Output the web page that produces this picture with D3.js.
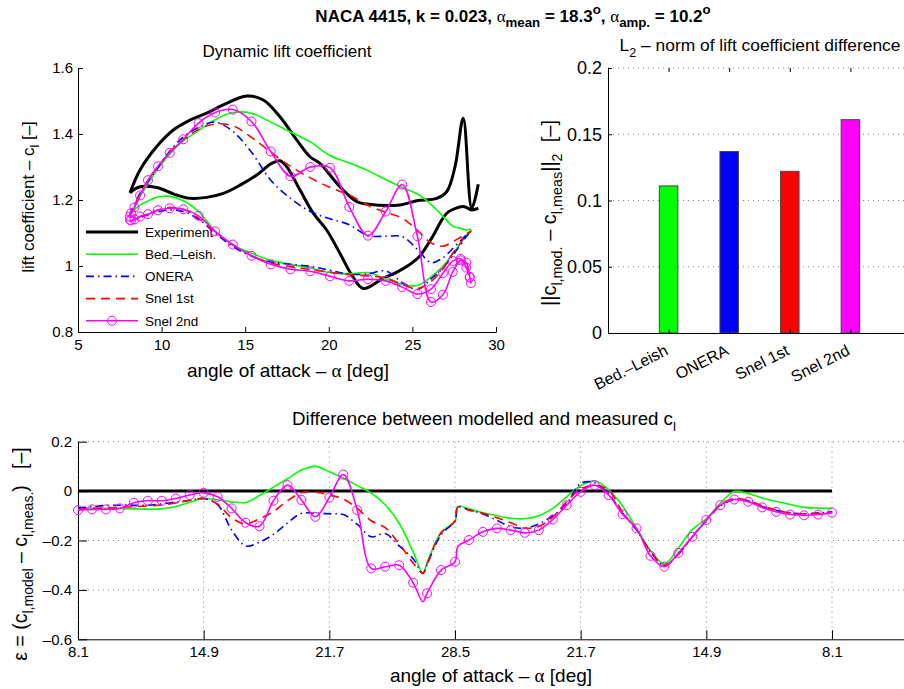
<!DOCTYPE html>
<html>
<head>
<meta charset="utf-8">
<script src="https://cdn.jsdelivr.net/npm/d3@7"></script>
<style>
body { margin: 0; background: #fff; }
svg text { font-family: "Liberation Sans", Arial, Helvetica, sans-serif; fill: #000; white-space: pre; }
</style>
</head>
<body>
<svg id="fig" width="904" height="689"></svg>
<script>
// ---- data ----
// angle of attack at each model sample (up-stroke then down-stroke)
var alphaGrid = [8.100, 8.169, 8.375, 8.715, 9.185, 9.778, 10.486, 11.300, 12.209, 13.200, 14.260, 15.375, 16.529, 17.707,
  18.893, 20.071, 21.225, 22.340, 23.400, 24.391, 25.300, 26.114, 26.822, 27.415, 27.885, 28.225, 28.431, 28.500,
  28.431, 28.225, 27.885, 27.415, 26.822, 26.114, 25.300, 24.391, 23.400, 22.340, 21.225, 20.071, 18.893, 17.707,
  16.529, 15.375, 14.260, 13.200, 12.209, 11.300, 10.486, 9.778, 9.185, 8.715, 8.375, 8.169, 8.100];

var clBedLeish = [1.152, 1.158, 1.177, 1.211, 1.250, 1.295, 1.339, 1.379, 1.410, 1.443, 1.465, 1.463, 1.436, 1.406,
  1.376, 1.335, 1.312, 1.289, 1.262, 1.238, 1.218, 1.187, 1.151, 1.121, 1.114, 1.109, 1.111, 1.108,
  1.103, 1.094, 1.070, 1.037, 0.999, 0.967, 0.941, 0.944, 0.961, 0.980, 0.976, 0.980, 0.994, 1.005,
  1.017, 1.039, 1.064, 1.106, 1.165, 1.198, 1.211, 1.209, 1.197, 1.185, 1.170, 1.158, 1.152];
var clOnera = [1.153, 1.164, 1.186, 1.221, 1.256, 1.298, 1.348, 1.391, 1.420, 1.436, 1.408, 1.345, 1.260, 1.205,
  1.165, 1.143, 1.125, 1.092, 1.090, 1.089, 1.050, 1.010, 1.025, 1.053, 1.077, 1.094, 1.103, 1.105,
  1.102, 1.089, 1.065, 1.032, 0.993, 0.961, 0.929, 0.950, 0.985, 0.976, 0.975, 0.987, 0.999, 1.005,
  1.012, 1.030, 1.059, 1.100, 1.142, 1.165, 1.170, 1.164, 1.155, 1.147, 1.139, 1.137, 1.137];
var clSnel1 = [1.151, 1.166, 1.185, 1.216, 1.260, 1.301, 1.345, 1.383, 1.414, 1.430, 1.425, 1.390, 1.345, 1.302,
  1.267, 1.238, 1.215, 1.184, 1.163, 1.145, 1.108, 1.070, 1.060, 1.074, 1.087, 1.096, 1.102, 1.105,
  1.103, 1.097, 1.070, 1.039, 0.992, 0.953, 0.932, 0.944, 0.964, 0.970, 0.974, 0.981, 0.989, 0.998,
  1.009, 1.032, 1.064, 1.103, 1.145, 1.172, 1.177, 1.170, 1.158, 1.150, 1.140, 1.137, 1.136];
var clSnel2 = [1.150, 1.160, 1.178, 1.214, 1.260, 1.302, 1.343, 1.384, 1.433, 1.465, 1.474, 1.438, 1.347, 1.272,
  1.300, 1.298, 1.179, 1.092, 1.165, 1.247, 1.090, 0.891, 0.913, 0.982, 1.017, 1.010, 0.967, 0.948,
  0.965, 0.995, 1.022, 1.015, 0.978, 0.930, 0.915, 0.936, 0.955, 0.960, 0.955, 0.969, 0.984, 0.990,
  1.005, 1.031, 1.065, 1.105, 1.152, 1.172, 1.175, 1.169, 1.157, 1.150, 1.141, 1.138, 1.140];

// measured lift, up-stroke and down-stroke
var expUpAlpha = [8.11, 8.71, 9.71, 10.70, 11.70, 12.70, 13.69, 15.09, 16.08, 17.08, 18.08, 18.88, 19.47, 20.67,
  21.67, 22.27, 24.26, 25.26, 26.45, 27.05, 27.55, 28.04, 28.55, 28.94];
var expUpCl = [1.222, 1.291, 1.362, 1.412, 1.442, 1.463, 1.488, 1.515, 1.503, 1.452, 1.382, 1.331, 1.311, 1.240,
  1.195, 1.188, 1.185, 1.198, 1.205, 1.225, 1.301, 1.448, 1.175, 1.248];
var expDownAlpha = [28.94, 28.55, 28.04, 27.15, 26.83, 26.23, 25.75, 25.45, 24.80, 24.02, 23.26, 22.06, 21.37, 20.67,
  19.87, 19.07, 18.28, 17.48, 17.08, 16.58, 15.69, 14.69, 13.69, 12.70, 11.70, 10.90, 9.71, 8.71, 8.11];
var expDownCl = [1.175, 1.170, 1.180, 1.164, 1.145, 1.091, 1.052, 1.030, 1.003, 0.980, 0.963, 0.932, 0.973, 1.038,
  1.109, 1.160, 1.230, 1.301, 1.319, 1.311, 1.276, 1.245, 1.220, 1.208, 1.205, 1.215, 1.238, 1.240, 1.222];

// difference plot: sample position along the cycle
var epsPos = [0, 1, 2, 3, 4, 5, 6, 7, 8, 9, 10, 11, 12, 13, 14, 15, 16, 17, 18, 19, 20, 21, 22, 23, 24, 24.7, 25, 26,
  27, 27.2, 28, 29, 30, 31, 32, 33, 34, 35, 36, 37, 38, 39, 40, 41, 42, 43, 44, 45, 46, 47, 48, 49, 50, 51, 52, 53, 54];
var epsBedLeish = [-0.070, -0.070, -0.070, -0.071, -0.072, -0.073, -0.072, -0.062, -0.045, -0.030,
  -0.035, -0.044, -0.046, -0.018, 0.016, 0.050, 0.085, 0.100, 0.078, 0.052,
  0.022, -0.008, -0.055, -0.130, -0.245, -0.333, -0.290, -0.168, -0.122, -0.062,
  -0.072, -0.088, -0.100, -0.110, -0.112, -0.100, -0.070, -0.023, 0.022, 0.042,
  0.005, -0.060, -0.150, -0.240, -0.295, -0.230, -0.155, -0.112, -0.050, -0.002,
  -0.010, -0.028, -0.042, -0.054, -0.066, -0.069, -0.070];
var epsOnera = [-0.068, -0.063, -0.058, -0.057, -0.057, -0.057, -0.052, -0.045, -0.037, -0.030,
  -0.055, -0.157, -0.222, -0.207, -0.175, -0.129, -0.090, -0.090, -0.092, -0.095,
  -0.135, -0.185, -0.172, -0.222, -0.274, -0.333, -0.297, -0.177, -0.121, -0.065,
  -0.076, -0.093, -0.118, -0.145, -0.150, -0.133, -0.100, -0.050, 0.031, 0.034,
  -0.012, -0.090, -0.157, -0.245, -0.300, -0.255, -0.185, -0.120, -0.060, -0.035,
  -0.040, -0.062, -0.078, -0.088, -0.092, -0.088, -0.084];
var epsSnel1 = [-0.073, -0.070, -0.068, -0.066, -0.063, -0.060, -0.056, -0.048, -0.038, -0.030,
  -0.053, -0.108, -0.133, -0.112, -0.083, -0.039, -0.007, -0.004, -0.016, -0.032,
  -0.070, -0.120, -0.148, -0.213, -0.291, -0.333, -0.295, -0.169, -0.121, -0.065,
  -0.077, -0.090, -0.108, -0.128, -0.150, -0.143, -0.105, -0.043, 0.008, 0.023,
  0.004, -0.085, -0.155, -0.245, -0.300, -0.255, -0.183, -0.118, -0.055, -0.030,
  -0.038, -0.060, -0.077, -0.088, -0.092, -0.090, -0.086];
var epsSnel2 = [-0.077, -0.074, -0.074, -0.070, -0.047, -0.039, -0.039, -0.030, -0.016, -0.007,
  -0.023, -0.070, -0.128, -0.142, -0.039, 0.024, -0.036, -0.104, -0.026, 0.067,
  -0.077, -0.313, -0.306, -0.300, -0.371, -0.448, -0.414, -0.320, -0.286, -0.225,
  -0.198, -0.165, -0.151, -0.158, -0.169, -0.158, -0.115, -0.057, -0.003, 0.024,
  -0.016, -0.094, -0.151, -0.262, -0.306, -0.250, -0.185, -0.117, -0.057, -0.034,
  -0.043, -0.066, -0.084, -0.095, -0.098, -0.095, -0.087];

// L2 norm bars
var barNames = ["Bed.\u2013Leish", "ONERA", "Snel 1st", "Snel 2nd"];
var barValues = [0.111, 0.137, 0.122, 0.161];

// tick labels
var liftXTicks = [5, 10, 15, 20, 25, 30];
var liftYTicks = [0.8, 1, 1.2, 1.4, 1.6];
var barYTicks = [0, 0.05, 0.1, 0.15, 0.2];
var epsYTicks = [-0.6, -0.4, -0.2, 0, 0.2];
var epsTickPos = [0, 9, 18, 27, 36, 45, 54];
var epsTickLabels = ["8.1", "14.9", "21.7", "28.5", "21.7", "14.9", "8.1"];
var legendNames = ["Experiment", "Bed.\u2013Leish.", "ONERA", "Snel 1st", "Snel 2nd"];

// ---- styles ----
var FONT = "'Liberation Sans', Arial, Helvetica, sans-serif";
var GREEK = "'Liberation Serif', 'DejaVu Serif', serif";
var styles = {
  exp:   {color: "#000000", width: 3,   dash: null},
  bed:   {color: "#00ff00", width: 1.6, dash: null},
  onera: {color: "#0000ff", width: 1.6, dash: "8,4,1.5,4"},
  snel1: {color: "#ff0000", width: 1.6, dash: "9,6"},
  snel2: {color: "#ff00ff", width: 1.6, dash: null}
};
var models = [
  {key: "bed", cl: clBedLeish, eps: epsBedLeish},
  {key: "onera", cl: clOnera, eps: epsOnera},
  {key: "snel1", cl: clSnel1, eps: epsSnel1},
  {key: "snel2", cl: clSnel2, eps: epsSnel2, marker: true}
];

var svg = d3.select("#fig");
svg.append("rect").attr("width", 904).attr("height", 689).attr("fill", "#fff");

// text with sub / superscripts
function addRich(parent, parts, o) {
  var t = parent.append("text")
    .attr("x", o.x).attr("y", o.y)
    .attr("text-anchor", o.anchor || "middle")
    .style("font-size", o.size + "px");
  if (o.bold) t.style("font-weight", "bold");
  if (o.rotate) t.attr("transform", "rotate(" + o.rotate + "," + o.x + "," + o.y + ")");
  var level = 0;
  parts.forEach(function(p) {
    var s = typeof p === "string" ? {t: p} : p;
    var target = s.sub ? o.size * 0.32 : (s.sup ? -o.size * 0.45 : 0);
    var ts = t.append("tspan").text(s.t).attr("dy", (target - level).toFixed(2));
    if (s.sub || s.sup) ts.style("font-size", (o.size * (o.subScale || 0.72)) + "px");
    if (s.greek) ts.style("font-family", GREEK).style("font-weight", "normal");
    level = target;
  });
  return t;
}

function styleAxis(g, size) {
  g.attr("font-family", FONT).attr("font-size", size);
  g.selectAll("path.domain").attr("stroke", "#000");
  g.selectAll(".tick line").attr("stroke", "#000");
  g.selectAll(".tick text").attr("fill", "#000");
}

function applyStyle(sel, st) {
  sel.attr("fill", "none").attr("stroke", st.color).attr("stroke-width", st.width)
    .attr("stroke-linejoin", "round");
  if (st.dash) sel.attr("stroke-dasharray", st.dash);
  return sel;
}

// main title
addRich(svg, ["NACA 4415, k = 0.023, ", {t: "\u03b1", greek: true}, {t: "mean", sub: true}, " = 18.3", {t: "o", sup: true},
  ", ", {t: "\u03b1", greek: true}, {t: "amp.", sub: true}, " = 10.2", {t: "o", sup: true}],
  {x: 513, y: 22, size: 17, bold: true, subScale: 0.78});

// ================= dynamic lift coefficient =================
var x1 = d3.scaleLinear().domain([5, 30]).range([78, 496]);
var y1 = d3.scaleLinear().domain([0.8, 1.6]).range([332, 68]);

var gx1 = svg.append("g").attr("transform", "translate(0,332)")
  .call(d3.axisBottom(x1).tickValues(liftXTicks).tickSizeInner(-5).tickSizeOuter(0).tickPadding(7));
styleAxis(gx1, 15);
var gy1 = svg.append("g").attr("transform", "translate(78,0)")
  .call(d3.axisLeft(y1).tickValues(liftYTicks).tickSizeInner(-5).tickSizeOuter(0).tickPadding(5)
    .tickFormat(function(d) { return String(d); }));
styleAxis(gy1, 15);

addRich(svg, ["Dynamic lift coefficient"], {x: 287, y: 57, size: 17});
addRich(svg, ["angle of attack \u2013 ", {t: "\u03b1", greek: true}, " [deg]"], {x: 288, y: 377, size: 19});
addRich(svg, ["lift coefficient \u2013 c", {t: "l", sub: true}, " [\u2013]"], {x: 34, y: 197, size: 17, rotate: -90});

// legend
var leg = svg.append("g").attr("transform", "translate(86,232)");
["exp", "bed", "onera", "snel1", "snel2"].forEach(function(k, i) {
  var row = leg.append("g").attr("transform", "translate(0," + (i * 22.2) + ")");
  applyStyle(row.append("line").attr("x1", 0).attr("x2", 52).attr("y1", 0).attr("y2", 0), styles[k]);
  if (k === "snel2") {
    row.append("circle").attr("cx", 26).attr("cy", 0).attr("r", 4.5)
      .attr("fill", "none").attr("stroke", styles[k].color).attr("stroke-width", 1);
  }
  row.append("text").attr("x", 59).attr("y", 0).attr("dy", "0.35em")
    .style("font-size", "13.5px").text(legendNames[i]);
});

var plotTop = svg.append("g");
var expLine = d3.line().x(function(d) { return x1(d[0]); }).y(function(d) { return y1(d[1]); })
  .curve(d3.curveCatmullRom.alpha(0.5));
applyStyle(plotTop.append("path").attr("d", expLine(d3.zip(expUpAlpha, expUpCl))), styles.exp);
applyStyle(plotTop.append("path").attr("d", expLine(d3.zip(expDownAlpha, expDownCl))), styles.exp);

var modelLine = d3.line().x(function(d, i) { return x1(alphaGrid[i]); }).y(function(d) { return y1(d); })
  .curve(d3.curveCatmullRom.alpha(0.5));
models.forEach(function(m) {
  applyStyle(plotTop.append("path").attr("d", modelLine(m.cl)), styles[m.key]);
  if (m.marker) {
    plotTop.selectAll(null).data(m.cl).enter().append("circle")
      .attr("cx", function(d, i) { return x1(alphaGrid[i]); })
      .attr("cy", function(d) { return y1(d); })
      .attr("r", 4.5).attr("fill", "none")
      .attr("stroke", styles[m.key].color).attr("stroke-width", 1);
  }
});

// ================= L2 norm bars =================
var xb = d3.scaleLinear().domain([0, 5]).range([608, 911]);
var yb = d3.scaleLinear().domain([0, 0.2]).range([333, 68]);

var gridB = svg.append("g");
[0.05, 0.1, 0.15, 0.2].forEach(function(v) {
  gridB.append("line").attr("x1", 608).attr("x2", 911).attr("y1", yb(v)).attr("y2", yb(v))
    .attr("stroke", "#808080").attr("stroke-width", 1).attr("stroke-dasharray", "1,4");
});

svg.append("g").selectAll("rect").data(barValues).enter().append("rect")
  .attr("x", function(d, i) { return xb(i + 1) - 9.25; })
  .attr("width", 18.5)
  .attr("y", function(d) { return yb(d); })
  .attr("height", function(d) { return yb(0) - yb(d); })
  .attr("fill", function(d, i) { return styles[models[i].key].color; })
  .attr("stroke", "#444").attr("stroke-width", 1);

var gxb = svg.append("g").attr("transform", "translate(0,333)")
  .call(d3.axisBottom(xb).tickValues([1, 2, 3, 4]).tickSizeInner(-4).tickSizeOuter(0)
    .tickFormat(function(d) { return barNames[d - 1]; }));
styleAxis(gxb, 16);
gxb.selectAll(".tick text").attr("x", 0).attr("y", 0).attr("dy", 0)
  .attr("text-anchor", "end").attr("transform", "translate(0,21) rotate(-27)");
var gtb = svg.append("g").attr("transform", "translate(0,68)")
  .call(d3.axisTop(xb).tickValues([1, 2, 3, 4]).tickSizeInner(-4).tickSizeOuter(0).tickFormat(""));
styleAxis(gtb, 15);
gtb.select("path.domain").remove();
var gyb = svg.append("g").attr("transform", "translate(608,0)")
  .call(d3.axisLeft(yb).tickValues(barYTicks).tickSizeInner(-4).tickSizeOuter(0).tickPadding(6)
    .tickFormat(function(d) { return String(d); }));
styleAxis(gyb, 18);

addRich(svg, ["L", {t: "2", sub: true}, " \u2013 norm of lift coefficient difference"], {x: 760, y: 51, size: 17.4});
addRich(svg, ["||c", {t: "l,mod.", sub: true}, " \u2013 c", {t: "l,meas", sub: true}, "||", {t: "2", sub: true}, "  [\u2013]"],
  {x: 556, y: 213, size: 20, rotate: -90});

// ================= difference plot =================
var x3 = d3.scaleLinear().domain([0, 60]).range([78, 78 + 60 * 13.963]);
var y3 = d3.scaleLinear().domain([-0.6, 0.2]).range([639.3, 441.7]);

var grid3 = svg.append("g");
[0.2, -0.2, -0.4].forEach(function(v) {
  grid3.append("line").attr("x1", 78).attr("x2", 904).attr("y1", y3(v)).attr("y2", y3(v))
    .attr("stroke", "#808080").attr("stroke-width", 1).attr("stroke-dasharray", "1,4");
});
epsTickPos.forEach(function(p) {
  grid3.append("line").attr("x1", x3(p)).attr("x2", x3(p)).attr("y1", y3(0.2)).attr("y2", y3(-0.6))
    .attr("stroke", "#808080").attr("stroke-width", 1).attr("stroke-dasharray", "1,4");
});

var gx3 = svg.append("g").attr("transform", "translate(0,639.3)")
  .call(d3.axisBottom(x3).tickValues(epsTickPos).tickSizeInner(-9).tickSizeOuter(0).tickPadding(7)
    .tickFormat(function(d, i) { return epsTickLabels[i]; }));
styleAxis(gx3, 15);
var gy3 = svg.append("g").attr("transform", "translate(78,0)")
  .call(d3.axisLeft(y3).tickValues(epsYTicks).tickSizeInner(-9).tickSizeOuter(0).tickPadding(6)
    .tickFormat(function(d) { return d < 0 ? "\u2013" + String(-d) : String(d); }));
styleAxis(gy3, 15);

var plot3 = svg.append("g");
plot3.append("line").attr("x1", x3(epsPos[0])).attr("x2", x3(epsPos[epsPos.length - 1]))
  .attr("y1", y3(0)).attr("y2", y3(0)).attr("stroke", "#000").attr("stroke-width", 3);

var epsLine = d3.line().x(function(d, i) { return x3(epsPos[i]); }).y(function(d) { return y3(d); })
  .curve(d3.curveCatmullRom.alpha(0.5));
models.forEach(function(m) {
  applyStyle(plot3.append("path").attr("d", epsLine(m.eps)), styles[m.key]);
  if (m.marker) {
    var pts = m.eps.map(function(v, i) { return [epsPos[i], v]; })
      .filter(function(d) { return Number.isInteger(d[0]); });
    plot3.selectAll(null).data(pts).enter().append("circle")
      .attr("cx", function(d) { return x3(d[0]); })
      .attr("cy", function(d) { return y3(d[1]); })
      .attr("r", 4.5).attr("fill", "none")
      .attr("stroke", styles[m.key].color).attr("stroke-width", 1);
  }
});

addRich(svg, ["Difference between modelled and measured c", {t: "l", sub: true}], {x: 484, y: 425, size: 18.7});
addRich(svg, ["angle of attack \u2013 ", {t: "\u03b1", greek: true}, " [deg]"], {x: 491, y: 682, size: 19});
addRich(svg, ["\u03b5 = (c", {t: "l,model", sub: true}, " \u2013 c", {t: "l,meas.", sub: true}, ")   [\u2013]"],
  {x: 27, y: 554, size: 19.5, rotate: -90});
</script>
</body>
</html>
